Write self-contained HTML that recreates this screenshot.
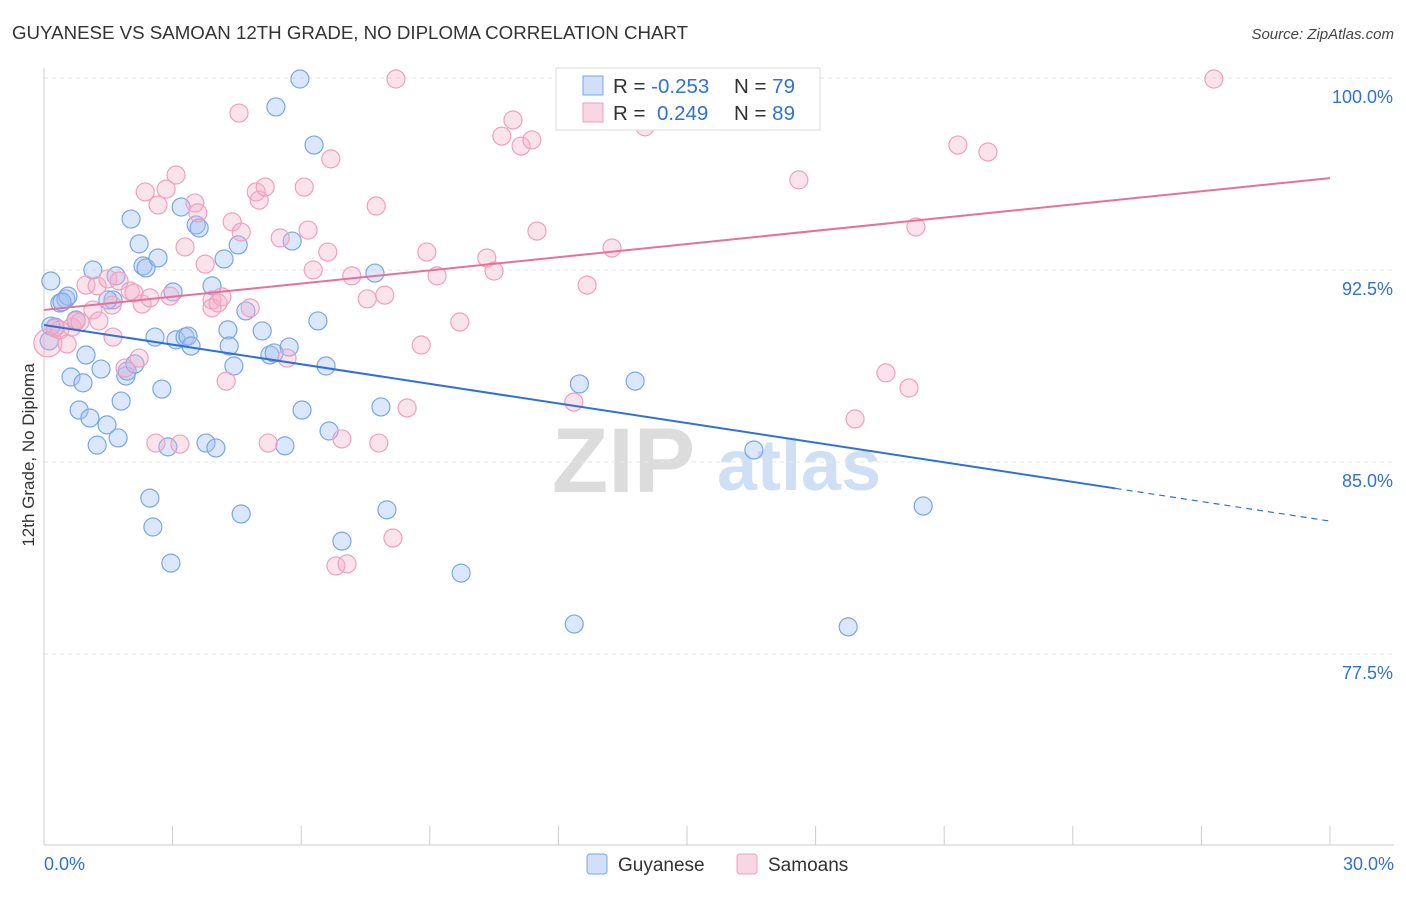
<!DOCTYPE html>
<html><head><meta charset="utf-8">
<style>
body{margin:0;background:#fff;font-family:"Liberation Sans",sans-serif;}
svg text{font-family:"Liberation Sans",sans-serif;}
</style></head>
<body>
<svg id="chart" width="1406" height="892" viewBox="0 0 1406 892" xmlns="http://www.w3.org/2000/svg">
<text x="12" y="39" font-size="18.7" fill="#333">GUYANESE VS SAMOAN 12TH GRADE, NO DIPLOMA CORRELATION CHART</text>
<text x="1394" y="39" font-size="15" fill="#444" text-anchor="end" font-style="italic">Source: ZipAtlas.com</text>
<text transform="translate(34,455) rotate(-90)" font-size="17" fill="#333" text-anchor="middle">12th Grade, No Diploma</text>
<g>
<text x="552" y="492" font-size="92" fill="#dcdcdc" font-family="Liberation Serif" font-weight="bold">ZIP</text>
<text x="717" y="490" font-size="72" fill="#cfe0f5" font-weight="bold">atlas</text>
</g>
<g id="grid"></g>
<g id="axes"></g>
<g id="marks"></g>
<g id="lines"></g>
<g>
<rect x="556" y="68" width="264" height="62" fill="#fff" stroke="#ddd"/>
<rect x="583" y="76" width="20" height="19" fill="rgba(164,194,244,0.5)" stroke="#7aa6e8"/>
<rect x="583" y="103" width="20" height="19" fill="rgba(244,174,200,0.5)" stroke="#f0a0bd"/>
<text x="613" y="93" font-size="20.5" fill="#333">R = <tspan fill="#3070d8">-0.253</tspan><tspan x="734">N = </tspan><tspan fill="#3070d8">79</tspan></text>
<text x="613" y="120" font-size="20.5" fill="#333">R = <tspan fill="#3070d8" x="657">0.249</tspan><tspan x="734">N = </tspan><tspan fill="#3070d8">89</tspan></text>
</g>
<g>
<rect x="587" y="854" width="20" height="20" rx="3" fill="rgba(164,194,244,0.5)" stroke="#7aa6e8"/>
<text x="618" y="871" font-size="19" fill="#333">Guyanese</text>
<rect x="737" y="854" width="20" height="20" rx="3" fill="rgba(244,174,200,0.5)" stroke="#f0a0bd"/>
<text x="768" y="871" font-size="19" fill="#333">Samoans</text>
</g>
</svg>
<script>
const yTicks=[100,92.5,85,77.5];
const yTickLabels=["100.0%","92.5%","85.0%","77.5%"];
const xTickLabels=["0.0%","30.0%"];
const blueX=[0.16,0.37,0.51,0.56,0.26,0.12,0.75,0.98,0.63,0.91,0.82,1.07,1.24,1.33,1.47,1.73,1.80,1.91,1.94,2.12,1.61,1.49,1.14,1.68,2.03,2.22,2.31,2.38,2.66,3.01,2.59,2.75,2.89,2.47,2.54,2.96,3.20,3.55,3.62,3.08,3.29,3.36,3.43,3.78,4.01,3.92,4.20,4.53,4.29,4.32,4.43,4.60,4.71,5.09,5.27,5.37,5.72,5.62,5.41,5.97,6.30,5.79,6.39,6.02,6.58,6.65,6.95,7.72,7.86,8.00,9.73,12.37,12.49,13.79,16.56,18.76,20.51,0.16,0.42];
const blueY=[92.07,91.21,91.37,91.48,90.27,89.73,90.55,89.18,88.32,88.09,87.03,86.72,85.66,88.63,86.45,85.94,87.38,88.36,88.55,88.83,91.33,91.33,92.50,92.27,94.49,93.52,92.66,92.58,92.97,91.64,89.88,87.85,85.59,83.59,82.46,81.05,94.96,94.26,94.14,89.77,89.88,89.92,89.53,85.74,85.55,91.88,92.93,93.48,90.16,89.53,88.75,82.97,90.90,90.12,89.18,89.26,89.49,85.63,98.87,99.96,97.38,93.63,90.51,87.03,88.75,86.21,81.91,92.38,87.15,83.13,80.66,78.67,88.05,88.16,85.47,78.56,83.28,90.31,91.25];
const pinkX=[0.09,0.26,0.37,0.54,0.65,0.75,0.84,0.98,1.14,1.24,1.28,1.49,1.61,1.59,1.75,1.89,2.01,2.10,2.22,2.29,2.36,2.47,2.61,2.66,2.85,2.94,3.08,3.17,3.29,3.52,3.59,3.76,3.92,3.92,4.06,4.15,4.25,4.39,4.55,4.60,4.81,4.95,5.02,5.16,5.23,5.51,5.67,6.07,6.16,6.28,6.62,6.69,6.95,6.81,7.07,7.18,7.54,7.75,7.81,7.95,8.14,8.21,8.47,8.80,8.93,9.17,9.70,10.33,10.50,10.68,10.94,11.13,11.38,11.50,12.36,12.67,13.25,14.02,14.98,17.61,18.92,19.64,20.18,20.34,21.32,22.02,27.29];
const pinkY=[89.65,90.23,90.16,89.61,90.27,90.51,90.47,91.91,90.94,91.88,90.51,92.15,89.88,91.13,92.07,88.67,91.68,91.60,89.06,91.17,95.55,91.41,85.74,95.04,95.66,91.48,96.21,85.70,93.40,95.12,94.73,92.73,91.33,91.02,91.21,91.45,88.16,94.38,98.63,93.98,91.02,95.55,95.23,95.74,85.74,93.75,89.06,95.74,94.06,92.50,93.20,96.84,85.90,80.94,81.02,92.27,91.37,95.00,85.74,91.52,82.03,99.96,87.11,89.57,93.20,92.27,90.47,92.97,92.46,97.73,98.36,97.34,97.58,94.02,87.34,91.91,93.36,98.09,99.92,96.02,86.68,88.48,87.89,94.18,97.38,97.11,99.96];
const blueTrend=[90.35,-0.2553];
const pinkTrend=[90.94,0.1717];
const blueSolidEnd=25;
const NS='http://www.w3.org/2000/svg';
const X=v=>44+(v/30)*1286;
const Y=v=>78+(100-v)*25.6;
function mk(tag,attrs,parent){const e=document.createElementNS(NS,tag);for(const k in attrs)e.setAttribute(k,attrs[k]);parent.appendChild(e);return e;}
const grid=document.getElementById('grid'),axes=document.getElementById('axes'),marks=document.getElementById('marks'),lines=document.getElementById('lines');
yTicks.forEach((t,i)=>{
 const g=mk('line',{x1:44,x2:1394,y1:Y(t),y2:Y(t),stroke:'#e4e4e4','stroke-dasharray':'4,4'},grid);
 
 
 const l=mk('text',{x:1393,y:Y(t)+25,'font-size':18,fill:'#3070d8','text-anchor':'end'},axes);
 l.textContent=yTickLabels[i];
 
 
});
const ax=mk('line',{x1:44,x2:44,y1:68,y2:845,stroke:'#ccc'},axes);


const bx=mk('line',{x1:44,x2:1394,y1:845,y2:845,stroke:'#ccc'},axes);


for(let i=0;i<=10;i++){
 const t=mk('line',{x1:X(i*3),x2:X(i*3),y1:826,y2:845,stroke:'#ccc'},axes);
 
 
}
[[0,'start',44],[30,'end',1394]].forEach((d,i)=>{
 const l=mk('text',{x:d[2],y:870,'font-size':18,fill:'#3070d8','text-anchor':d[1]},axes);
 l.textContent=xTickLabels[i];
 
 
});
blueX.forEach((v,i)=>{
 const c=mk('circle',{cx:X(v),cy:Y(blueY[i]),r:9,fill:'rgba(164,194,244,0.4)',stroke:'#7aa6e8','stroke-width':1.2},marks);
 
 
});
pinkX.forEach((v,i)=>{
 const c=mk('circle',{cx:X(v),cy:Y(pinkY[i]),r:i===0?14:9,fill:'rgba(244,174,200,0.35)',stroke:'#f0a0bd','stroke-width':1.2},marks);
 
 
});
const bt=x=>blueTrend[0]+blueTrend[1]*x, pt=x=>pinkTrend[0]+pinkTrend[1]*x;
const l1=mk('line',{x1:X(0),y1:Y(bt(0)),x2:X(blueSolidEnd),y2:Y(bt(blueSolidEnd)),stroke:'#3070d8','stroke-width':2},lines);


const l2=mk('line',{x1:X(blueSolidEnd),y1:Y(bt(blueSolidEnd)),x2:X(30),y2:Y(bt(30)),stroke:'#3070d8','stroke-width':1.2,'stroke-dasharray':'6,5'},lines);


const l3=mk('line',{x1:X(0),y1:Y(pt(0)),x2:X(30),y2:Y(pt(30)),stroke:'#e8709a','stroke-width':2},lines);


</script>
</body></html>
